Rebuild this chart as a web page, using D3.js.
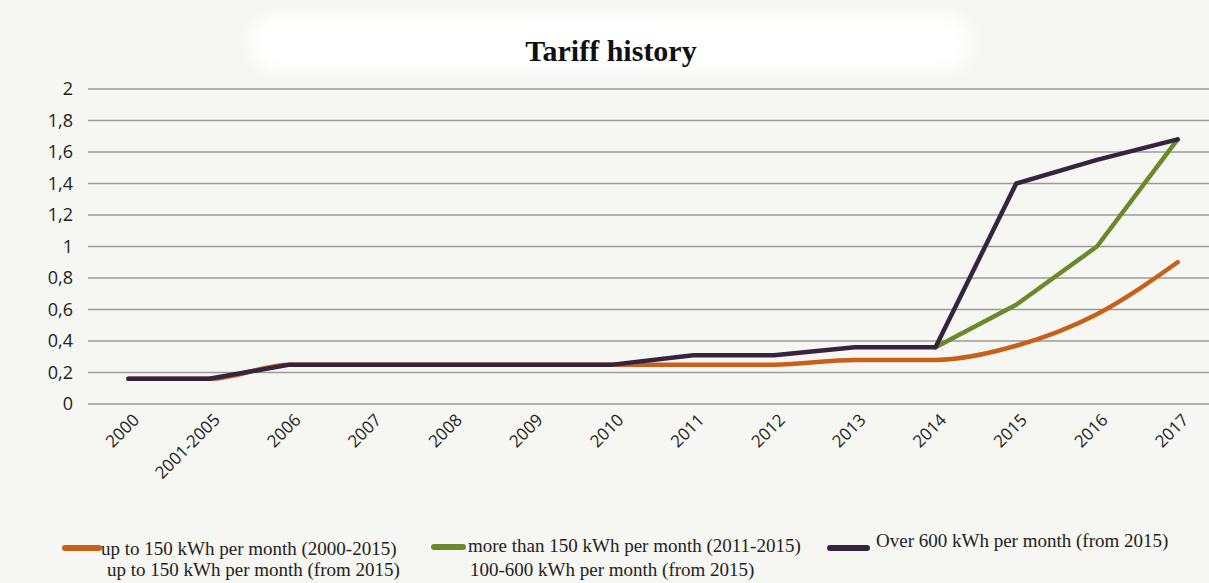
<!DOCTYPE html>
<html>
<head>
<meta charset="utf-8">
<script src="https://cdn.jsdelivr.net/npm/d3@7"></script>
<style>
  body { margin: 0; background: #f6f6f2; }
  .grid line { stroke: #9a9a96; stroke-width: 1.6; }
  .ytick { font-family: 'Open Sans', 'Noto Sans', sans-serif; font-size: 18px; fill: #222; }
  .xtick { font-family: 'Open Sans', 'Noto Sans', sans-serif; font-size: 17px; fill: #222; }
  .legend text { font-family: 'Liberation Serif', 'Times New Roman', serif; font-size: 19px; fill: #222; }
</style>
</head>
<body>
<div id="chart"></div>
<script>
'use strict';

// categories on the x axis
const years = ['2000', '2001-2005', '2006', '2007', '2008', '2009', '2010',
  '2011', '2012', '2013', '2014', '2015', '2016', '2017'];

// tariff series (null = no value in that year)
const upTo150 = [0.16, 0.16, 0.25, 0.25, 0.25, 0.25, 0.25, 0.25, 0.25, 0.28, 0.28, 0.37, 0.57, 0.90];
const over150 = [null, null, null, null, null, null, null, null, null, null, 0.36, 0.63, 1.0, 1.68];
const over600 = [0.16, 0.16, 0.25, 0.25, 0.25, 0.25, 0.25, 0.31, 0.31, 0.36, 0.36, 1.40, 1.55, 1.68];

const yTicks = [0, 0.2, 0.4, 0.6, 0.8, 1, 1.2, 1.4, 1.6, 1.8, 2];

const width = 1209, height = 583;
const margin = {top: 89, right: -9, bottom: 179, left: 88};

let svg = d3.select('#chart').append('svg')
  .attr('width', width)
  .attr('height', height);

// soft white patch behind the title, like the scanned original
let defs = svg.append('defs');
defs.append('filter').attr('id', 'blur')
  .append('feGaussianBlur').attr('stdDeviation', 8);
svg.append('rect').attr('x', 250).attr('y', 14).attr('width', 720).attr('height', 58)
  .attr('rx', 28).attr('fill', '#fff').attr('filter', 'url(#blur)');

svg.append('text')
  .attr('x', 611).attr('y', 61)
  .attr('text-anchor', 'middle')
  .style('font-family', "'Liberation Serif', 'Times New Roman', serif")
  .style('font-weight', 'bold')
  .style('font-size', '30px')
  .attr('fill', '#111')
  .text('Tariff history');

let xScale = d3.scalePoint()
  .domain(years)
  .range([margin.left, width - margin.right])
  .padding(0.5);

let yScale = d3.scaleLinear()
  .domain([0, 2])
  .range([height - margin.bottom, margin.top]);

// gridlines
svg.append('g')
  .attr('class', 'grid')
  .selectAll('line')
  .data(yTicks)
  .join('line')
  .attr('x1', margin.left)
  .attr('x2', width)
  .attr('y1', d => yScale(d))
  .attr('y2', d => yScale(d));

// y tick labels
let fmt = d => String(d).replace('.', ',');
svg.append('g')
  .selectAll('text')
  .data(yTicks)
  .join('text')
  .attr('class', 'ytick')
  .attr('x', 73)
  .attr('y', d => yScale(d) + 6)
  .attr('text-anchor', 'end')
  .text(fmt);

// x tick labels, rotated
svg.append('g')
  .selectAll('text')
  .data(years)
  .join('text')
  .attr('class', 'xtick')
  .attr('text-anchor', 'end')
  .attr('transform', d => 'translate(' + (xScale(d) + 12) + ',' + 421 + ') rotate(-45)')
  .text(d => d);

const series = [
  {values: upTo150, color: '#c8601a', curve: d3.curveMonotoneX},
  {values: over150, color: '#6a8a2a', curve: d3.curveLinear},
  {values: over600, color: '#35243f', curve: d3.curveLinear}
];

series.forEach(s => {
  let line = d3.line()
    .defined(d => d != null)
    .x((d, i) => xScale(years[i]))
    .y(d => yScale(d))
    .curve(s.curve);
  svg.append('path')
    .datum(s.values)
    .attr('fill', 'none')
    .attr('stroke', s.color)
    .attr('stroke-width', 4.5)
    .attr('stroke-linejoin', 'round')
    .attr('stroke-linecap', 'round')
    .attr('d', line);
});

// legend
const legendItems = [
  {color: '#c8601a', x: 65, sw: 34, lines: [['up to 150 kWh per month (2000-2015)', 101, 555], ['up to 150 kWh per month (from 2015)', 107, 576]], sy: 548},
  {color: '#6a8a2a', x: 434, sw: 29, lines: [['more than 150 kWh per month (2011-2015)', 468, 552], ['100-600 kWh per month (from 2015)', 470, 576]], sy: 547},
  {color: '#35243f', x: 830, sw: 37, lines: [['Over 600 kWh per month (from 2015)', 876, 547]], sy: 548}
];

let lg = svg.append('g').attr('class', 'legend');
legendItems.forEach(it => {
  lg.append('line')
    .attr('x1', it.x).attr('x2', it.x + it.sw)
    .attr('y1', it.sy).attr('y2', it.sy)
    .attr('stroke', it.color).attr('stroke-width', 6)
    .attr('stroke-linecap', 'round');
  it.lines.forEach(l => {
    lg.append('text').attr('x', l[1]).attr('y', l[2]).text(l[0]);
  });
});
</script>
</body>
</html>
